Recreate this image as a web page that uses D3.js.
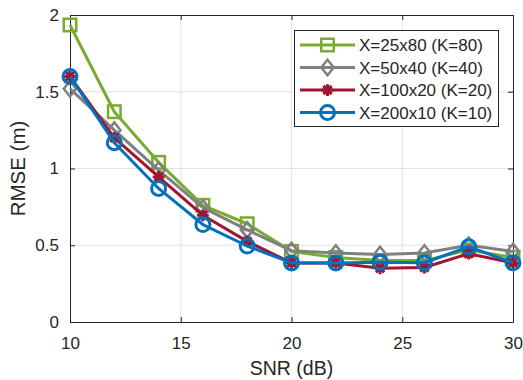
<!DOCTYPE html>
<html>
<head>
<meta charset="utf-8">
<script src="https://cdn.jsdelivr.net/npm/d3@7"></script>
<style>
  html, body { margin: 0; padding: 0; background: #fff; }
  svg { display: block; font-family: "Liberation Sans", Arial, Helvetica, sans-serif; }
</style>
</head>
<body>
<svg id="chart" width="523" height="380"></svg>
<script>
const snr = [10, 12, 14, 16, 18, 20, 22, 24, 26, 28, 30];
const seriesNames = ["X=25x80 (K=80)", "X=50x40 (K=40)", "X=100x20 (K=20)", "X=200x10 (K=10)"];
const rmse25x80  = [1.935, 1.37, 1.04, 0.76, 0.64, 0.46, 0.42, 0.40, 0.40, 0.47, 0.42];
const rmse50x40  = [1.52, 1.25, 0.99, 0.745, 0.60, 0.465, 0.45, 0.44, 0.45, 0.50, 0.46];
const rmse100x20 = [1.60, 1.20, 0.945, 0.695, 0.525, 0.385, 0.385, 0.35, 0.355, 0.445, 0.385];
const rmse200x10 = [1.60, 1.168, 0.87, 0.635, 0.495, 0.385, 0.385, 0.39, 0.386, 0.49, 0.386];
const xTicks = [10, 15, 20, 25, 30];
const yTicks = [0, 0.5, 1, 1.5, 2];
const yTickLabels = ["0", "0.5", "1", "1.5", "2"];
const xLabel = "SNR (dB)";
const yLabel = "RMSE (m)";

const colors = ["#77AC30", "#808080", "#A2142F", "#0072BD"];
const markers = ["square", "diamond", "asterisk", "circle"];
const allValues = [rmse25x80, rmse50x40, rmse100x20, rmse200x10];

const W = 523, H = 380;
const m = { left: 70, right: 10, top: 15, bottom: 58 };
const svg = d3.select("#chart");
const x = d3.scaleLinear().domain([10, 30]).range([m.left, W - m.right]);
const y = d3.scaleLinear().domain([0, 2]).range([H - m.bottom, m.top]);
const axisColor = "#262626";

// grid
const g = svg.append("g");
g.selectAll(".gx").data(xTicks.slice(1, -1)).enter().append("line")
  .attr("x1", d => x(d)).attr("x2", d => x(d)).attr("y1", y(0)).attr("y2", y(2))
  .attr("stroke", "#e3e3e3").attr("stroke-width", 1);
g.selectAll(".gy").data(yTicks.slice(1, -1)).enter().append("line")
  .attr("y1", d => y(d)).attr("y2", d => y(d)).attr("x1", x(10)).attr("x2", x(30))
  .attr("stroke", "#e3e3e3").attr("stroke-width", 1);

// axes
const tickLen = 5;
const axB = svg.append("g").attr("transform", `translate(0,${y(0)})`)
  .call(d3.axisBottom(x).tickValues(xTicks).tickSizeInner(-tickLen).tickSizeOuter(0).tickPadding(15));
const axT = svg.append("g").attr("transform", `translate(0,${y(2)})`)
  .call(d3.axisTop(x).tickValues(xTicks).tickSizeInner(-tickLen).tickSizeOuter(0).tickFormat(""));
const axL = svg.append("g").attr("transform", `translate(${x(10)},0)`)
  .call(d3.axisLeft(y).tickValues(yTicks).tickSizeInner(-tickLen).tickSizeOuter(0).tickPadding(11)
    .tickFormat((d, i) => yTickLabels[i]));
const axR = svg.append("g").attr("transform", `translate(${x(30)},0)`)
  .call(d3.axisRight(y).tickValues(yTicks).tickSizeInner(-tickLen).tickSizeOuter(0).tickFormat(""));
[axB, axT, axL, axR].forEach(a => {
  a.select(".domain").attr("stroke", axisColor).attr("stroke-width", 1);
  a.selectAll(".tick line").attr("stroke", axisColor);
  a.selectAll("text").attr("fill", axisColor).style("font-size", "17px")
    .style("font-family", '"Liberation Sans", Arial, sans-serif');
});
axB.selectAll(".tick text").attr("dy", "0.71em");

// labels
svg.append("text").attr("x", (x(10) + x(30)) / 2).attr("y", 375)
  .attr("text-anchor", "middle").attr("fill", axisColor).style("font-size", "19.5px").text(xLabel);
svg.append("text").attr("transform", `translate(25,${(y(0) + y(2)) / 2}) rotate(-90)`)
  .attr("text-anchor", "middle").attr("fill", axisColor).style("font-size", "20.5px").text(yLabel);

function drawMarker(sel, type, color, cx, cy, s) {
  const sw = 2.5;
  if (type === "square") {
    sel.append("rect").attr("x", cx - s / 2).attr("y", cy - s / 2).attr("width", s).attr("height", s)
      .attr("fill", "none").attr("stroke", color).attr("stroke-width", sw);
  } else if (type === "diamond") {
    const r = s * 0.62;
    sel.append("path").attr("d", `M${cx},${cy - r}L${cx + r * 0.8},${cy}L${cx},${cy + r}L${cx - r * 0.8},${cy}Z`)
      .attr("fill", "none").attr("stroke", color).attr("stroke-width", sw);
  } else if (type === "circle") {
    sel.append("circle").attr("cx", cx).attr("cy", cy).attr("r", s / 2)
      .attr("fill", "none").attr("stroke", color).attr("stroke-width", sw + 0.5);
  } else if (type === "asterisk") {
    const r = s * 0.47;
    const d = r * 0.707;
    sel.append("path").attr("d",
      `M${cx - r},${cy}L${cx + r},${cy}M${cx},${cy - r}L${cx},${cy + r}` +
      `M${cx - d},${cy - d}L${cx + d},${cy + d}M${cx - d},${cy + d}L${cx + d},${cy - d}`)
      .attr("fill", "none").attr("stroke", color).attr("stroke-width", 3);
  }
}

const line = d3.line().x((d, i) => x(snr[i])).y(d => y(d));
const plot = svg.append("g");
allValues.forEach((vals, k) => {
  const sg = plot.append("g");
  sg.append("path").datum(vals).attr("d", line).attr("fill", "none")
    .attr("stroke", colors[k]).attr("stroke-width", 3).attr("stroke-linejoin", "round");
  vals.forEach((v, i) => drawMarker(sg, markers[k], colors[k], x(snr[i]), y(v), markers[k] === "circle" ? 14 : 12.5));
});

// legend
const lg = svg.append("g");
lg.append("rect").attr("x", 294.5).attr("y", 30.5).attr("width", 204).attr("height", 96)
  .attr("fill", "#fff").attr("stroke", axisColor).attr("stroke-width", 1);
seriesNames.forEach((name, k) => {
  const cy = 45 + k * 22.5;
  lg.append("line").attr("x1", 300).attr("x2", 355).attr("y1", cy).attr("y2", cy)
    .attr("stroke", colors[k]).attr("stroke-width", 3);
  drawMarker(lg, markers[k], colors[k], 327.5, cy, markers[k] === "circle" ? 14 : 12.5);
  lg.append("text").attr("x", 359).attr("y", cy).attr("dy", "0.36em").attr("fill", axisColor)
    .style("font-size", "17px").text(name);
});
</script>
</body>
</html>
